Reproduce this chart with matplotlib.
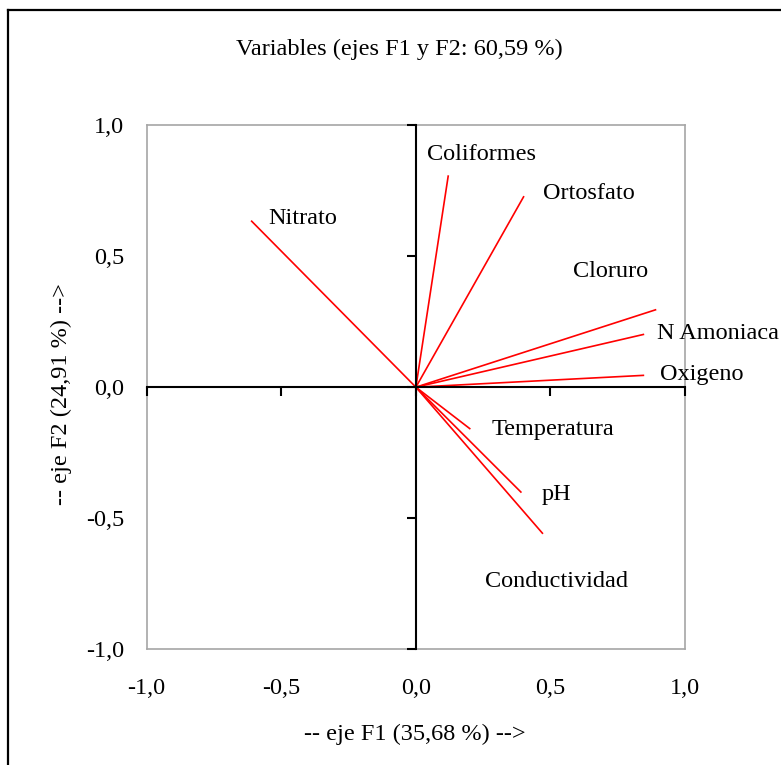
import matplotlib
matplotlib.use("Agg")
import matplotlib.pyplot as plt
from matplotlib.lines import Line2D
from matplotlib.ticker import FuncFormatter

plt.rcParams['font.family'] = ['Liberation Serif', 'DejaVu Serif']

# Variable loadings on F1 / F2
variables = ['Coliformes', 'Ortosfato', 'Nitrato', 'Cloruro', 'N Amoniaca',
             'Oxigeno', 'Temperatura', 'pH', 'Conductividad']
f1 = [0.12, 0.40, -0.61, 0.89, 0.845, 0.845, 0.20, 0.39, 0.47]
f2 = [0.805, 0.726, 0.633, 0.295, 0.201, 0.045, -0.158, -0.40, -0.557]

ticks = [-1.0, -0.5, 0.0, 0.5, 1.0]
title = 'Variables (ejes F1 y F2: 60,59 %)'
xlabel = '-- eje F1 (35,68 %) -->'
ylabel = '-- eje F2 (24,91 %) -->'

# where the labels sit (text centres, data units)
label_xy = [(0.244, 0.887), (0.641, 0.738), (-0.419, 0.643), (0.725, 0.44),
            (1.123, 0.204), (1.061, 0.047), (0.508, -0.162), (0.521, -0.41),
            (0.524, -0.741)]

fs = 17.5
fig = plt.figure(figsize=(7.81, 7.65), dpi=100)
pos = [0.1878, 0.1512, 0.6894, 0.6854]

ax = fig.add_axes(pos)
ax.set_xlim(-1, 1)
ax.set_ylim(-1, 1)
for s in ax.spines.values():
    s.set_color('#a6a6a6')
    s.set_linewidth(1.2)
ax.set_xticks(ticks)
ax.set_yticks(ticks)
comma = FuncFormatter(lambda v, p: f'{v:.1f}'.replace('.', ','))
ax.xaxis.set_major_formatter(comma)
ax.yaxis.set_major_formatter(comma)
ax.tick_params(axis='x', length=0, pad=21, labelsize=fs)
ax.tick_params(axis='y', length=0, pad=16, labelsize=fs)
ax.set_xlabel(xlabel, fontsize=fs)
ax.set_ylabel(ylabel, fontsize=fs)
ax.xaxis.set_label_coords(0.498, -0.143)
ax.yaxis.set_label_coords(-0.139, 0.487)

# black axes through the origin with their tick marks
ax2 = fig.add_axes(pos, sharex=ax, sharey=ax)
ax2.patch.set_visible(False)
ax2.spines['top'].set_visible(False)
ax2.spines['right'].set_visible(False)
ax2.spines['left'].set_position(('data', 0))
ax2.spines['bottom'].set_position(('data', 0))
for k in ('left', 'bottom'):
    ax2.spines[k].set_color('black')
    ax2.spines[k].set_linewidth(1.5)
ax2.tick_params(direction='out', length=6.5, width=1.5, color='black',
                labelbottom=False, labelleft=False)

for x, y in zip(f1, f2):
    ax.plot([0, x], [0, y], color='red', lw=1.2, zorder=3)
for name, (lx, ly) in zip(variables, label_xy):
    ax.text(lx, ly, name, fontsize=fs, ha='center', va='center', clip_on=False)

fig.text(0.511, 1 - 49 / 765, title, fontsize=fs, ha='center', va='center')

# outer chart border (only left and top visible)
fig.add_artist(Line2D([8 / 781, 8 / 781], [0, 1 - 10 / 765], color='black',
                      lw=1.6, transform=fig.transFigure))
fig.add_artist(Line2D([8 / 781, 1], [1 - 10 / 765, 1 - 10 / 765], color='black',
                      lw=1.6, transform=fig.transFigure))

fig.savefig('out.png', dpi=100)
